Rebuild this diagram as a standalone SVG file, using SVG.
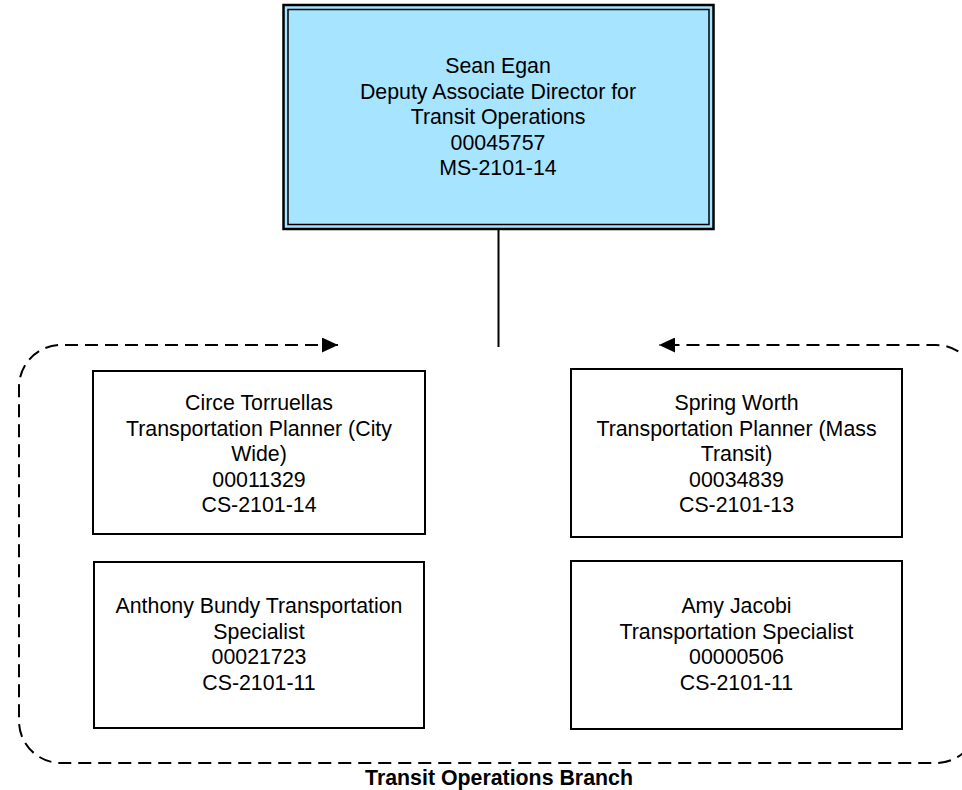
<svg xmlns="http://www.w3.org/2000/svg" width="962" height="790" viewBox="0 0 962 790">
<style>
text{font-family:"Liberation Sans",Arial,sans-serif;font-size:21.33px;fill:#000;text-anchor:middle}
.box{fill:#fff;stroke:#000;stroke-width:2}
.dash{fill:none;stroke:#000;stroke-width:2;stroke-dasharray:13 7}
.lbl{font-weight:bold}
</style>
<defs>
<marker id="ah" viewBox="0 0 16 15" refX="16" refY="7.5" markerWidth="16" markerHeight="15" markerUnits="userSpaceOnUse" orient="auto-start-reverse">
<path d="M0,0 L16,7.5 L0,15 Z" fill="#000"/>
</marker>
</defs>
<rect width="962" height="790" fill="#fff"/>
<g id="connectors">
<line x1="498.5" y1="230" x2="498.5" y2="347" stroke="#000" stroke-width="2"/>
<path class="dash" d="M338,345 L61,345 A42,42 0 0 0 19,387 L19,721 A42,42 0 0 0 61,763 L936,763 A42,42 0 0 0 978,721 L978,387 A42,42 0 0 0 936,345 L659,345" marker-start="url(#ah)" marker-end="url(#ah)"/>
</g>
<g id="group-label">
<text class="lbl" x="499" y="785">Transit Operations Branch</text>
</g>
<g id="sean-egan">
<rect x="283.5" y="5" width="430" height="224" fill="#A6E4FF" stroke="#000" stroke-width="2.5"/>
<rect x="288" y="9.5" width="421" height="215" fill="none" stroke="#000" stroke-width="1.5"/>
<text x="498" y="73">Sean Egan</text>
<text x="498" y="98.5">Deputy Associate Director for</text>
<text x="498" y="124">Transit Operations</text>
<text x="498" y="149.5">00045757</text>
<text x="498" y="175">MS-2101-14</text>
</g>
<g id="circe-torruellas">
<rect class="box" x="93" y="371" width="332" height="163"/>
<text x="259" y="410">Circe Torruellas</text>
<text x="259" y="435.5">Transportation Planner (City</text>
<text x="259" y="461">Wide)</text>
<text x="259" y="486.5">00011329</text>
<text x="259" y="512">CS-2101-14</text>
</g>
<g id="anthony-bundy">
<rect class="box" x="94" y="562" width="330" height="166"/>
<text x="259" y="613">Anthony Bundy Transportation</text>
<text x="259" y="638.5">Specialist</text>
<text x="259" y="664">00021723</text>
<text x="259" y="689.5">CS-2101-11</text>
</g>
<g id="spring-worth">
<rect class="box" x="571" y="369" width="331" height="168"/>
<text x="736.5" y="410">Spring Worth</text>
<text x="736.5" y="435.5">Transportation Planner (Mass</text>
<text x="736.5" y="461">Transit)</text>
<text x="736.5" y="486.5">00034839</text>
<text x="736.5" y="512">CS-2101-13</text>
</g>
<g id="amy-jacobi">
<rect class="box" x="571" y="561" width="331" height="168"/>
<text x="736.5" y="613">Amy Jacobi</text>
<text x="736.5" y="638.5">Transportation Specialist</text>
<text x="736.5" y="664">00000506</text>
<text x="736.5" y="689.5">CS-2101-11</text>
</g>
</svg>
